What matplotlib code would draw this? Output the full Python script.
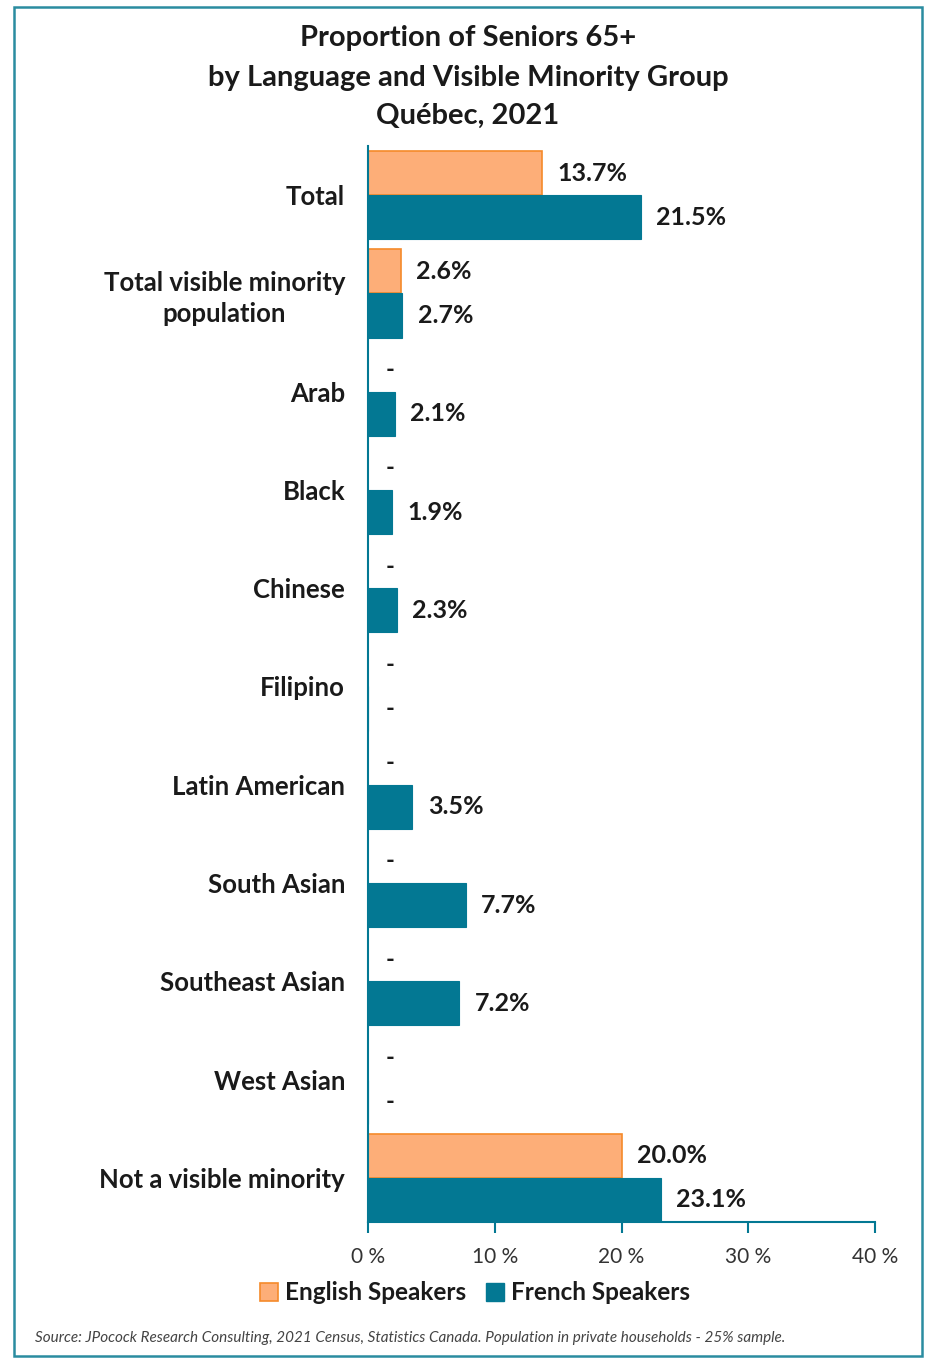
import matplotlib
matplotlib.use("Agg")
import matplotlib.pyplot as plt
import matplotlib.patches as mpatches
import numpy as np

categories = ["Total", "Total visible minority\npopulation", "Arab", "Black", "Chinese",
              "Filipino", "Latin American", "South Asian", "Southeast Asian",
              "West Asian", "Not a visible minority"]
english = [13.7, 2.6, None, None, None, None, None, None, None, None, 20.0]
french = [21.5, 2.7, 2.1, 1.9, 2.3, None, 3.5, 7.7, 7.2, None, 23.1]
xticks = [0, 10, 20, 30, 40]
xtick_labels = ["0 %", "10 %", "20 %", "30 %", "40 %"]

ORANGE_FILL = "#FDAE78"
ORANGE_EDGE = "#F58A2A"
TEAL = "#037893"
TXT = "#1a1a1a"

plt.rcParams['font.family'] = ['Lato', 'DejaVu Sans']

fig = plt.figure(figsize=(9.32, 13.58), dpi=100)
ax = fig.add_axes([368/932, 1 - 1222/1358, (875-368)/932, (1222-146)/1358])

n = len(categories)
y = np.arange(n)
h = 0.45
eng_vals = [v if v is not None else 0 for v in english]
fr_vals = [v if v is not None else 0 for v in french]
ax.barh(y - h/2, eng_vals, height=h, color=ORANGE_FILL, edgecolor=ORANGE_EDGE, linewidth=1.2,
        label="English Speakers")
ax.barh(y + h/2, fr_vals, height=h, color=TEAL, edgecolor=TEAL, linewidth=0.8,
        label="French Speakers")

for i in range(n):
    for val, yy in ((english[i], y[i] - h/2), (french[i], y[i] + h/2)):
        if val is None:
            ax.annotate("-", (0, yy), xytext=(13, 0), textcoords="offset points",
                        va="center", ha="left", fontsize=17, fontweight="bold", color=TXT)
        else:
            ax.annotate(f"{val:.1f}%", (val, yy), xytext=(11, 0), textcoords="offset points",
                        va="center", ha="left", fontsize=18, fontweight="bold", color=TXT)

ax.set_ylim(n - 1 + h, -0.5)
ax.set_xlim(0, 40)
ax.set_yticks(y)
ax.set_yticklabels(categories, fontsize=18.5, fontweight="bold", color=TXT, ha="right",
                   multialignment="center", linespacing=1.35)
ax.tick_params(axis="y", length=0, pad=16.5)
ax.set_xticks(xticks)
ax.set_xticklabels(xtick_labels, fontsize=15, color="#333333")
ax.tick_params(axis="x", direction="out", length=8, color=TEAL, width=1.5, pad=10)
for s in ("top", "right"):
    ax.spines[s].set_visible(False)
for s in ("left", "bottom"):
    ax.spines[s].set_color(TEAL)
    ax.spines[s].set_linewidth(1.5)

for txt, yy in (("Proportion of Seniors 65+", 38), ("by Language and Visible Minority Group", 78),
                ("Québec, 2021", 116)):
    fig.text(468/932, 1 - yy/1358, txt, ha="center", va="center",
             fontsize=21, fontweight="bold", color=TXT)

handles = [mpatches.Patch(facecolor=ORANGE_FILL, edgecolor=ORANGE_EDGE, linewidth=1.2),
           mpatches.Patch(facecolor=TEAL, edgecolor=TEAL)]
fig.legend(handles, ["English Speakers", "French Speakers"], loc="center",
           bbox_to_anchor=(475/932, 1 - 1293/1358), ncol=2, frameon=False,
           prop={"size": 17.5, "weight": "bold"}, handlelength=0.75, handleheight=0.75,
           handletextpad=0.3, columnspacing=0.8, labelcolor=TXT)

fig.text(35/932, 1 - 1338/1358,
         "Source: JPocock Research Consulting, 2021 Census, Statistics Canada. Population in private households - 25% sample.",
         ha="left", va="center", fontsize=11, style="italic", color="#444444")

border = mpatches.Rectangle((14/932, 1 - 1356/1358), (922-14)/932, (1356-7)/1358,
                            transform=fig.transFigure, fill=False, edgecolor="#2A8CA0",
                            linewidth=1.8)
fig.patches.append(border)

fig.savefig("out.png", dpi=100, facecolor="white")
